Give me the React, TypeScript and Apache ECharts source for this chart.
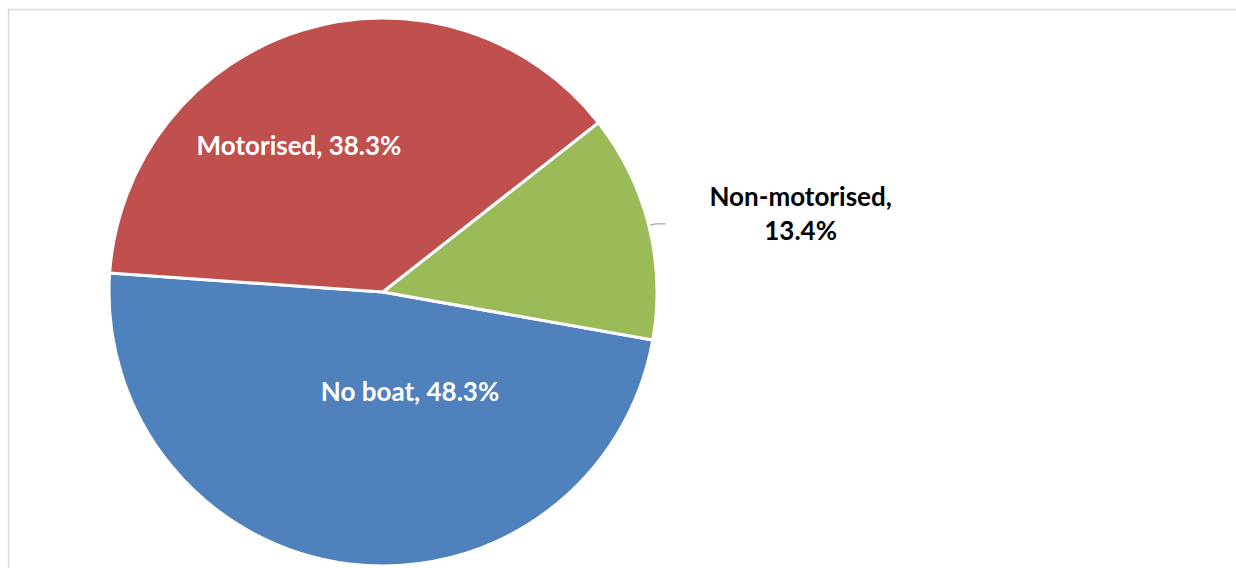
import React, { useEffect, useRef } from "react";
import * as echarts from "echarts";

const categories = ["No boat", "Motorised", "Non-motorised"];
const values = [48.3, 38.3, 13.4];
const colors = ["#4F81BD", "#C0504D", "#9BBB59"];

const FONT = "Lato";

export default function App() {
  const ref = useRef<HTMLDivElement>(null);
  useEffect(() => {
    if (!ref.current) return;
    const chart = echarts.init(ref.current, null, { renderer: "svg" });
    const data = categories.map((name, i) => {
      const isOutside = i === 2;
      return {
        name,
        value: values[i],
        itemStyle: { color: colors[i] },
        label: isOutside
          ? {
              position: "outside",
              formatter: "{a|" + name + ",}\n{a|" + values[i].toFixed(1) + "%}",
              distanceToLabelLine: 40,
              padding: [0, 0, 22, 0],
              rich: {
                a: {
                  width: 190,
                  align: "center",
                  fontFamily: FONT,
                  fontWeight: "bold",
                  fontSize: 26,
                  lineHeight: 34,
                  color: "#000000",
                },
              },
            }
          : {
              position: "inside",
              formatter: name + ", " + values[i].toFixed(1) + "%",
              color: "#ffffff",
              fontFamily: FONT,
              fontWeight: "bold",
              fontSize: 26,
            },
        labelLine: isOutside
          ? { show: true, length: 7, length2: 10, lineStyle: { color: "#a6a6a6", width: 1.3 } }
          : { show: false },
      };
    });
    const insidePos: Record<number, [number, number]> = {
      0: [410, 391],
      1: [299, 145],
    };
    chart.setOption({
      animation: false,
      backgroundColor: "#ffffff",
      graphic: [
        {
          type: "rect",
          shape: { x: 8.5, y: 9.5, width: 1400, height: 700 },
          style: { fill: "none", stroke: "#d9d9d9", lineWidth: 1.5 },
          silent: true,
        },
      ],
      series: [
        {
          type: "pie",
          center: [383, 292],
          radius: 274,
          startAngle: -10.1,
          clockwise: true,
          avoidLabelOverlap: false,
          itemStyle: { borderColor: "#ffffff", borderWidth: 3 },
          emphasis: { disabled: true },
          data,
          labelLayout: (params: any) => {
            const p = insidePos[params.dataIndex];
            if (!p) return {};
            return { x: p[0], y: p[1], align: "center", verticalAlign: "middle" };
          },
        },
      ],
    });
    return () => chart.dispose();
  }, []);
  return (
    <div
      ref={ref}
      style={{ position: "absolute", left: 0, top: 0, width: 1236, height: 568 }}
    />
  );
}
